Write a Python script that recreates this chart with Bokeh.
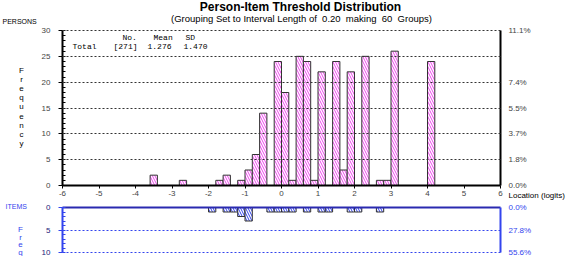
from bokeh.plotting import figure
from bokeh.models import Range1d, LinearAxis, FixedTicker, Label, Grid
from bokeh.layouts import column
from bokeh.embed import file_html
from bokeh.resources import INLINE

# ---------------- data ----------------
person_loc = [-3.5, -2.7, -1.7, -1.5, -1.1, -0.9, -0.7, -0.5, -0.1, 0.1, 0.3, 0.5,
              0.7, 0.9, 1.1, 1.5, 1.7, 1.9, 2.3, 2.7, 2.9, 3.1, 4.1]
person_n = [2, 1, 1, 2, 1, 3, 6, 14, 24, 18, 1, 25,
            24, 1, 22, 24, 3, 22, 25, 1, 1, 26, 24]
item_loc = [-1.9, -1.5, -1.3, -1.1, -0.9, -0.3, -0.1, 0.1, 0.3, 0.7, 1.1, 1.3, 1.9, 2.1, 2.7]
item_n = [1, 1, 1, 2, 3, 1, 1, 1, 1, 1, 1, 1, 1, 1, 1]
bin_width = 0.2
x_ticks = [-6, -5, -4, -3, -2, -1, 0, 1, 2, 3, 4, 5, 6]
person_ticks = [0, 5, 10, 15, 20, 25, 30]
person_pct_ticks = [0, 5, 10, 15, 20, 30]
person_pct_labels = ["0.0%", "1.8%", "3.7%", "5.5%", "7.4%", "11.1%"]
item_ticks = [0, 5, 10]
item_pct_labels = ["0.0%", "27.8%", "55.6%"]
stats_head = ["No.", "Mean", "SD"]
stats_row = ["Total", "[271]", "1.276", "1.470"]
title_text = "Person-Item Threshold Distribution"
subtitle_text = "(Grouping Set to Interval Length of \u00a00.20 \u00a0making \u00a060 \u00a0Groups)"

# ---------------- style ----------------
FONT = "Liberation Sans"
MONO = "Liberation Mono"
MAG = "#ee44ee"
BLUE = "#3344ee"
NAVY = "#22227a"
TOPLINE = "#2a2ab0"
GRID = "#333333"
W = 567
H1, H2 = 201, 55
PX_L, PX_R = 62, 500          # pixel columns of x = -6 and x = 6
P_Y0, P_Y30 = 185, 30          # pixel rows of persons 0 and 30
I_Y0, I_Y10 = 6, 51            # pixel rows (in lower canvas) of items 0 and 10

xmin, xmax = x_ticks[0], x_ticks[-1]
sx = (PX_R - PX_L) / (xmax - xmin)
x_range = Range1d(xmin - PX_L / sx, xmax + (W - PX_R) / sx)
sy1 = (P_Y0 - P_Y30) / (person_ticks[-1] - person_ticks[0])
y1_range = Range1d(person_ticks[0] - (H1 - P_Y0) / sy1, person_ticks[-1] + P_Y30 / sy1)
sy2 = (I_Y10 - I_Y0) / (item_ticks[-1] - item_ticks[0])
y2_range = Range1d(item_ticks[-1] + (H2 - I_Y10) / sy2, item_ticks[0] - I_Y0 / sy2)

has_cross = "cross_bounds" in Grid.properties()


def add_hgrid(fig, ticks, color):
    if has_cross:
        fig.add_layout(Grid(dimension=1, ticker=FixedTicker(ticks=ticks),
                            cross_bounds=(xmin, xmax), grid_line_dash="2 2",
                            grid_line_color=color, grid_line_width=1, level="annotation"), "center")
    else:
        fig.segment(x0=[xmin] * len(ticks), x1=[xmax] * len(ticks), y0=ticks, y1=ticks,
                    line_dash="2 2", line_color=color, line_width=1, level="annotation")


def lab(fig, x, y, text, size, color="black", font=FONT, align="left", style="normal"):
    fig.add_layout(Label(x=x, y=y, x_units="screen", y_units="screen", text=text,
                         text_font=font, text_font_size=size, text_color=color,
                         text_align=align, text_baseline="middle", text_font_style=style))


# ---------------- persons panel ----------------
p = figure(width=W, height=H1, x_range=x_range, y_range=y1_range,
           output_backend="svg", toolbar_location=None,
           x_axis_location=None, y_axis_location=None,
           min_border_left=0, min_border_right=0, min_border_top=0, min_border_bottom=0)
p.outline_line_color = None
p.xgrid.visible = False
p.ygrid.visible = False

ya = LinearAxis(fixed_location=xmin, bounds=(person_ticks[0], person_ticks[-1]),
                ticker=FixedTicker(ticks=person_ticks, minor_ticks=list(range(0, 31))))
ya.axis_line_width = 2
ya.major_tick_out = 4
ya.major_tick_in = 0
ya.minor_tick_in = 3
ya.minor_tick_out = 0
ya.major_label_standoff = 8
ya.major_label_text_font = FONT
ya.major_label_text_font_size = "8px"
p.add_layout(ya, "left")

xa = LinearAxis(fixed_location=person_ticks[0], bounds=(xmin, xmax),
                ticker=FixedTicker(ticks=x_ticks),
                major_label_overrides={t: str(t) for t in x_ticks})
xa.axis_line_width = 2
xa.major_tick_out = 3
xa.major_tick_in = 0
xa.minor_tick_line_color = None
xa.major_label_standoff = 2
xa.major_label_text_font = FONT
xa.major_label_text_font_size = "8px"
p.add_layout(xa, "below")

ra = LinearAxis(fixed_location=xmax, bounds=(person_ticks[0], person_ticks[-1]),
                ticker=FixedTicker(ticks=person_pct_ticks),
                major_label_overrides=dict(zip(person_pct_ticks, person_pct_labels)))
ra.axis_line_width = 2
ra.major_tick_out = 0
ra.major_tick_in = 0
ra.minor_tick_line_color = None
ra.major_label_standoff = 8
ra.major_label_text_font = FONT
ra.major_label_text_font_size = "8px"
p.add_layout(ra, "right")

p.vbar(x=person_loc, top=person_n, bottom=0, width=bin_width,
       fill_color="white", line_color="#333333", line_width=1,
       hatch_pattern="\\", hatch_color=MAG, hatch_scale=5, hatch_weight=1)
add_hgrid(p, person_ticks[1:], GRID)

# texts (screen units: origin at bottom-left of the canvas)
lab(p, 300, H1 - 6, title_text, "12px", align="center", style="bold")
lab(p, 301, H1 - 18, subtitle_text, "9.5px", align="center")
lab(p, 2, H1 - 21, "PERSONS", "7px")
for i, ch in enumerate("Frequency"):
    lab(p, 21, H1 - 70 - i * 9.1, ch, "8px", align="center")
for t, x in zip(stats_head, [122, 153, 185]):
    lab(p, x, H1 - 37, t, "8px", font=MONO)
for t, x in zip(stats_row, [72, 113, 147, 183]):
    lab(p, x, H1 - 46, t, "8px", font=MONO)
lab(p, 508, H1 - 195, "Location (logits)", "8px")

# ---------------- items panel ----------------
q = figure(width=W, height=H2, x_range=x_range, y_range=y2_range,
           output_backend="svg", toolbar_location=None,
           x_axis_location=None, y_axis_location=None,
           min_border_left=0, min_border_right=0, min_border_top=0, min_border_bottom=0)
q.outline_line_color = None
q.xgrid.visible = False
q.ygrid.visible = False

qa = LinearAxis(fixed_location=xmin, bounds=(item_ticks[0], item_ticks[-1]),
                ticker=FixedTicker(ticks=item_ticks, minor_ticks=list(range(0, 11))))
qa.axis_line_width = 2
qa.axis_line_color = BLUE
qa.major_tick_line_color = BLUE
qa.minor_tick_line_color = BLUE
qa.major_tick_out = 4
qa.major_tick_in = 0
qa.minor_tick_in = 3
qa.minor_tick_out = 0
qa.major_label_standoff = 8
qa.major_label_text_font = FONT
qa.major_label_text_font_size = "8px"
qa.major_label_text_color = NAVY
q.add_layout(qa, "left")

qr = LinearAxis(fixed_location=xmax, bounds=(item_ticks[0], item_ticks[-1]),
                ticker=FixedTicker(ticks=item_ticks),
                major_label_overrides=dict(zip(item_ticks, item_pct_labels)))
qr.axis_line_width = 2
qr.axis_line_color = BLUE
qr.major_tick_out = 0
qr.major_tick_in = 0
qr.minor_tick_line_color = None
qr.major_label_standoff = 8
qr.major_label_text_font = FONT
qr.major_label_text_font_size = "8px"
qr.major_label_text_color = BLUE
q.add_layout(qr, "right")

qt = LinearAxis(fixed_location=item_ticks[0], bounds=(xmin, xmax),
                ticker=FixedTicker(ticks=[]))
qt.axis_line_width = 2
qt.axis_line_color = TOPLINE
qt.major_tick_line_color = None
qt.minor_tick_line_color = None
qt.major_label_text_font_size = "0px"
q.add_layout(qt, "above")

q.vbar(x=item_loc, top=0, bottom=item_n, width=bin_width,
       fill_color="white", line_color="#333333", line_width=1,
       hatch_pattern="\\", hatch_color=BLUE, hatch_scale=5, hatch_weight=1)
add_hgrid(q, item_ticks[1:], BLUE)

lab(q, 5, H2 - 5, "ITEMS", "7px", color=BLUE)
for i, ch in enumerate("Freq"):
    lab(q, 20, H2 - 28 - i * 7.5, ch, "8px", color=BLUE, align="center")

layout = column(p, q)
open("out.html", "w").write(file_html(layout, INLINE))
